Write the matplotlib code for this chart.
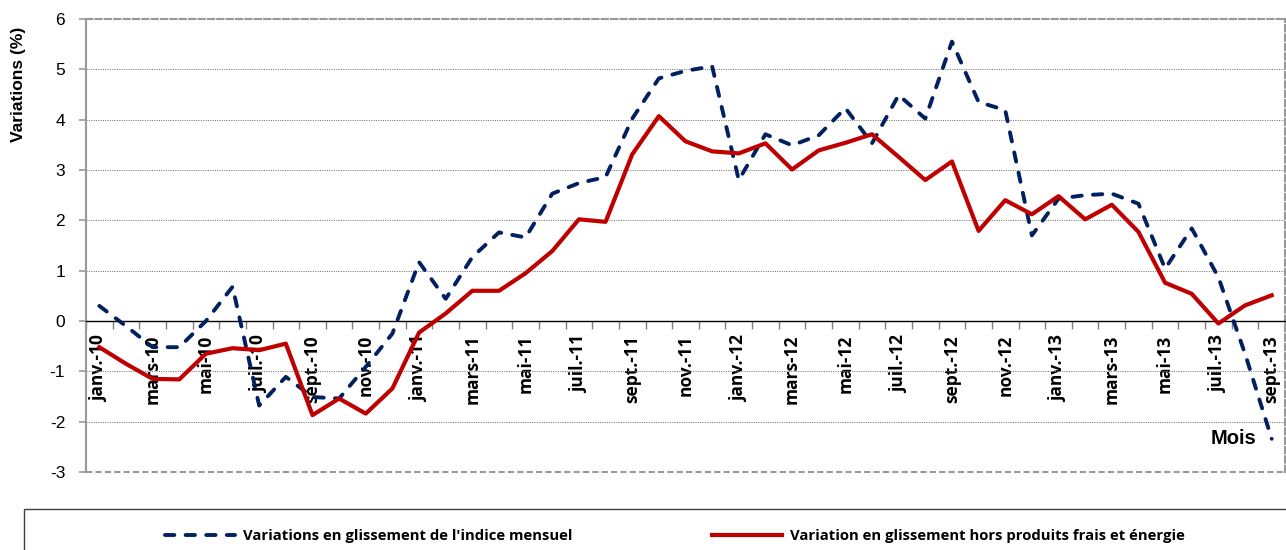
import matplotlib
matplotlib.use("Agg")
import matplotlib.pyplot as plt
from matplotlib.patches import Rectangle
from matplotlib.ticker import FixedLocator

plt.rcParams["axes.unicode_minus"] = False

mois = [
    "janv.-10", "févr.-10", "mars-10", "avr.-10", "mai-10", "juin-10",
    "juil.-10", "août-10", "sept.-10", "oct.-10", "nov.-10", "déc.-10",
    "janv.-11", "févr.-11", "mars-11", "avr.-11", "mai-11", "juin-11",
    "juil.-11", "août-11", "sept.-11", "oct.-11", "nov.-11", "déc.-11",
    "janv.-12", "févr.-12", "mars-12", "avr.-12", "mai-12", "juin-12",
    "juil.-12", "août-12", "sept.-12", "oct.-12", "nov.-12", "déc.-12",
    "janv.-13", "févr.-13", "mars-13", "avr.-13", "mai-13", "juin-13",
    "juil.-13", "août-13", "sept.-13",
]

indice_mensuel = [
    0.30, -0.10, -0.52, -0.52, 0.00, 0.68, -1.68, -1.11, -1.51, -1.54, -0.91, -0.25,
    1.17, 0.44, 1.27, 1.76, 1.66, 2.53, 2.74, 2.86, 4.02, 4.82, 4.97, 5.06,
    2.80, 3.71, 3.49, 3.69, 4.23, 3.53, 4.49, 4.02, 5.55, 4.35, 4.19, 1.70,
    2.43, 2.50, 2.53, 2.33, 1.04, 1.84, 0.87, -0.65, -2.34,
]

hors_frais_energie = [
    -0.52, -0.85, -1.15, -1.16, -0.65, -0.54, -0.58, -0.45, -1.87, -1.54, -1.84, -1.34,
    -0.23, 0.15, 0.60, 0.60, 0.95, 1.39, 2.02, 1.97, 3.31, 4.07, 3.57, 3.37,
    3.33, 3.53, 3.01, 3.39, 3.54, 3.71, 3.26, 2.80, 3.17, 1.79, 2.40, 2.12,
    2.48, 2.02, 2.31, 1.77, 0.76, 0.54, -0.05, 0.31, 0.51,
]

label_indice = "Variations en glissement de l'indice mensuel"
label_hors = "Variation en glissement hors produits frais et énergie"

W, H = 1286, 550
fig = plt.figure(figsize=(W / 100, H / 100), dpi=100)
ax = fig.add_axes([86 / W, 1 - 472 / H, (1285 - 86) / W, (472 - 19) / H])

x = list(range(len(mois)))
ax.plot(x, indice_mensuel, color="#002060", lw=2.8, dashes=(2.4, 2.9),
        dash_capstyle="round", label=label_indice, zorder=3)
ax.plot(x, hors_frais_energie, color="#C00000", lw=3.0,
        label=label_hors, zorder=4)

ax.set_xlim(-0.5, len(mois) - 0.5)
ax.set_ylim(-3, 6)
ax.set_yticks(range(-3, 7))

# grid: dotted, skip the border rows
ax.grid(axis="y", color="#7f7f7f", linestyle=(0, (1.2, 1.2)), lw=0.7)
gl = ax.get_ygridlines()
gl[0].set_visible(False)
gl[-1].set_visible(False)
ax.set_axisbelow(True)

# zero axis with category boundaries
ax.spines["bottom"].set_position(("data", 0))
ax.spines["bottom"].set_color("black")
ax.spines["bottom"].set_linewidth(1.0)
ax.set_xticks(x[::2])
ax.set_xticklabels(mois[::2], rotation=90, fontfamily="Open Sans",
                   fontweight="bold", fontsize=12.5, va="top")
ax.xaxis.set_minor_locator(FixedLocator([i - 0.5 for i in range(len(mois) + 1)]))
ax.tick_params(axis="x", which="major", length=0, pad=10)
ax.tick_params(axis="x", which="minor", length=6, color="#808080", width=1)

for side in ("top", "right"):
    ax.spines[side].set_color("#999999")
    ax.spines[side].set_linestyle((0, (3, 1.5)))
    ax.spines[side].set_linewidth(1.5)
ax.spines["left"].set_color("#999999")
ax.spines["left"].set_linewidth(1.5)
ax.axhline(-3, color="#999999", lw=1.5, linestyle=(0, (3, 1.5)), clip_on=False)

ax.tick_params(axis="y", length=5, color="#999999", width=1.2, pad=10,
               labelsize=12.5)
for t in ax.get_yticklabels():
    t.set_fontfamily("Liberation Sans")

fig.text(19 / W, 1 - 84 / H, "Variations (%)", rotation=90, ha="center",
         va="center", fontfamily="Liberation Sans", fontweight="bold",
         fontsize=12.5)
fig.text(1234 / W, 1 - 438 / H, "Mois", ha="center", va="center",
         fontfamily="Liberation Sans", fontweight="bold", fontsize=14.5)

# legend box
fig.patches.append(Rectangle((24 / W, -0.1), 1.2, 0.1 + (1 - 509 / H),
                             transform=fig.transFigure, fill=False,
                             edgecolor="#404040", lw=1.0))
handles, labels = ax.get_legend_handles_labels()
fig.legend(handles, labels, ncol=2, loc="center left",
           bbox_to_anchor=(165 / W, 1 - 536 / H), frameon=False,
           borderpad=0, borderaxespad=0, handlelength=4.7, handletextpad=0.55,
           columnspacing=9.4,
           prop={"family": "Open Sans", "weight": "bold", "size": 10.7})

fig.savefig("out.png", dpi=100)
